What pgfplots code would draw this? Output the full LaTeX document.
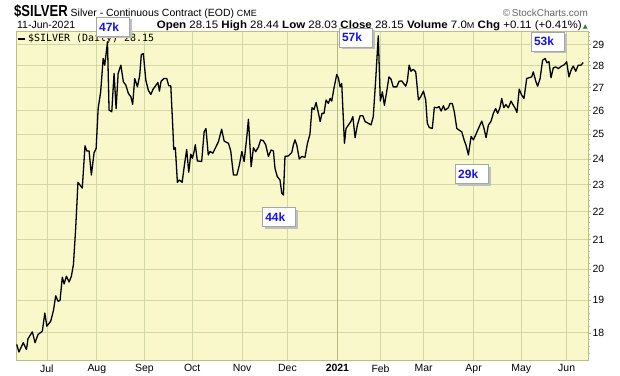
\documentclass[border=0pt]{standalone}
\usepackage{fontspec}
\setmainfont{Liberation Sans}
\newfontfamily\legfont{DejaVu Sans Mono}
\newfontfamily\dejavu{DejaVu Sans}
\usepackage{graphicx}
\usepackage{pgfplots}
\pgfplotsset{compat=1.18}
\usetikzlibrary{shadows}
\definecolor{bgy}{RGB}{248,248,202}
\definecolor{gridc}{RGB}{210,216,164}
\definecolor{gridd}{RGB}{180,186,130}
\definecolor{borderc}{RGB}{190,190,130}
\definecolor{annblue}{RGB}{20,20,235}
\definecolor{upgreen}{RGB}{40,130,40}
\pgfplotstableread{
d p
-13.3 17.66
-12.3 17.44
-10.4 17.71
-9.0 17.51
-8.3 17.83
-6.4 18.03
-5.2 17.71
-3.9 17.95
-2.0 18.05
-0.9 18.60
0.0 18.20
1.7 18.35
2.9 18.68
3.9 19.14
4.9 18.97
5.8 18.99
6.8 19.74
7.6 19.52
8.6 19.77
9.8 19.58
10.8 19.77
11.7 20.15
12.7 21.41
13.7 23.09
15.6 22.87
16.8 24.53
17.6 24.32
18.6 24.32
19.6 23.37
20.8 24.25
21.7 24.42
22.6 26.09
23.7 26.82
24.8 28.34
25.5 28.03
26.7 29.13
27.4 26.02
28.6 25.95
29.6 27.65
30.5 26.09
31.4 27.65
32.6 28.03
33.7 27.27
34.8 27.12
35.9 26.75
37.0 26.60
37.8 26.27
38.7 27.42
39.9 27.04
40.9 27.56
41.6 28.52
42.5 28.57
43.6 27.34
44.7 26.89
45.8 26.70
46.7 26.92
48.1 27.12
48.9 27.24
49.6 26.85
50.3 27.29
51.6 27.42
52.8 27.42
53.7 27.09
54.6 27.09
55.5 25.24
55.9 24.38
56.6 24.45
57.5 23.09
58.4 23.18
59.6 23.09
60.6 23.76
61.6 24.38
62.5 23.48
63.4 24.19
64.1 24.03
64.8 24.27
65.4 24.57
66.3 23.92
68.2 23.90
69.3 25.11
70.1 25.24
71.1 24.16
71.9 24.30
73.1 24.23
74.2 24.43
75.6 24.70
77.0 25.21
78.1 24.72
80.0 24.63
81.0 24.32
82.2 23.37
83.7 23.37
84.8 23.76
85.9 24.30
86.9 23.90
88.1 24.91
88.8 25.63
90.0 23.69
91.0 24.45
92.0 24.29
93.2 24.48
94.2 24.77
95.4 24.73
96.4 24.57
97.6 24.10
98.8 24.36
99.8 24.32
100.5 23.63
101.5 23.31
102.7 23.18
103.5 22.68
104.2 22.61
104.9 24.10
106.4 24.12
107.9 24.26
108.6 24.56
109.3 24.77
110.1 24.56
111.2 24.00
112.3 24.10
113.7 24.06
114.8 24.63
115.9 25.00
116.8 26.12
117.7 26.05
118.6 26.35
119.6 25.91
120.4 25.53
121.2 25.88
122.1 25.88
123.0 26.46
124.0 26.31
124.8 26.53
125.5 26.41
126.5 26.99
127.7 27.60
128.4 27.45
129.2 27.04
129.9 27.19
131.1 24.63
131.8 25.24
132.8 25.38
133.9 25.53
134.8 25.74
135.8 24.86
136.8 25.38
138.0 25.78
139.2 25.78
140.2 25.53
141.6 25.46
142.8 25.39
143.8 25.74
144.9 27.42
146.0 29.42
146.9 26.41
147.8 26.82
148.7 26.23
149.7 26.82
150.7 27.49
151.6 27.39
152.6 27.04
154.1 27.04
155.2 27.29
156.3 27.31
157.2 27.19
158.1 27.07
158.8 27.29
159.6 28.03
160.4 27.75
161.4 27.84
162.5 27.72
163.7 26.46
164.7 26.60
165.9 26.85
166.9 26.46
167.6 25.46
168.5 25.28
169.8 25.24
170.7 26.14
171.8 26.12
172.8 26.17
173.7 25.98
174.7 26.21
175.4 26.02
176.9 26.12
177.6 26.31
178.6 26.31
179.5 25.95
180.6 25.24
181.7 25.17
182.8 25.10
183.8 24.77
184.7 24.54
185.7 24.16
186.9 24.91
187.9 24.77
188.9 24.97
189.8 25.17
190.5 25.32
191.6 25.55
192.6 25.24
193.5 24.86
194.5 25.38
195.7 25.55
196.7 25.88
197.7 26.09
198.6 25.88
199.6 26.12
200.4 26.53
201.3 26.12
202.2 26.26
203.3 26.12
204.5 26.41
205.5 26.23
206.2 26.12
207.1 25.92
208.1 26.94
209.2 26.67
210.2 26.53
211.4 27.42
212.4 27.45
213.6 27.49
214.3 27.72
215.4 27.29
216.2 27.07
217.3 27.42
218.4 28.26
219.5 28.34
220.3 28.14
221.2 28.19
222.1 27.45
223.1 27.90
224.2 27.95
225.3 27.87
226.8 27.99
228.0 28.05
229.0 28.19
230.0 27.49
230.9 27.79
231.9 27.99
233.0 27.75
234.1 28.03
235.3 28.03
236.3 28.15
}\silver
\begin{document}
\begin{tikzpicture}
\useasboundingbox (0,0) rectangle (620bp,376bp);
\begin{axis}[
  at={(16bp,16bp)}, anchor=south west,
  scale only axis, width=572bp, height=329bp,
  xmin=-13.6, xmax=238.4,
  ymode=log, ymin=17.21, ymax=29.66,
  axis background/.style={fill=bgy},
  axis line style={draw=borderc, line width=0.8bp},
  grid=major,
  major grid style={draw=gridc, line width=0.7bp},
  xtick={0,22,43,64,86,106,128,147,166,188,209,229},
  xticklabels={Jul,Aug,Sep,Oct,Nov,Dec,\textbf{2021},Feb,Mar,Apr,May,Jun},
  xtick style={draw=none},
  xticklabel style={font=\fontsize{10.5}{12}\selectfont, yshift=2bp},
  extra x ticks={128},
  extra x tick labels={},
  extra x tick style={major grid style={draw=gridd, line width=1bp}, tick style={draw=none}},
  ytick={18,19,20,21,22,23,24,25,26,27,28,29},
  yticklabels={18,19,20,21,22,23,24,25,26,27,28,29},
  minor ytick={17.4,17.6,17.8,18.2,18.4,18.6,18.8,19.2,19.4,19.6,19.8,20.2,20.4,20.6,20.8,21.2,21.4,21.6,21.8,22.2,22.4,22.6,22.8,23.2,23.4,23.6,23.8,24.2,24.4,24.6,24.8,25.2,25.4,25.6,25.8,26.2,26.4,26.6,26.8,27.2,27.4,27.6,27.8,28.2,28.4,28.6,28.8,29.2,29.4,29.6},
  ytick pos=right, yticklabel pos=right,
  tick align=outside,
  major tick length=3bp, minor tick length=1.5bp,
  ytick style={draw=borderc, line width=0.6bp},
  yticklabel style={font=\fontsize{10.5}{12}\selectfont, anchor=west, xshift=-2bp},
  legend style={at={(0,1)}, anchor=north west, draw=none, fill=none,
    font=\legfont\fontsize{10}{11}\selectfont, inner sep=1bp},
  legend image code/.code={\draw[line width=2bp] (0bp,0bp) -- (7bp,0bp);},
]
\addplot[black, line width=1.3bp, line join=round] table[x=d, y=p] {\silver};
\addlegendentry{\$SILVER (Daily) 28.15}
\coordinate (a47) at (axis cs:29.2,29.87);
\coordinate (a57) at (axis cs:136.2,29.34);
\coordinate (a44) at (axis cs:102.4,21.80);
\coordinate (a29) at (axis cs:187.4,23.40);
\coordinate (a53) at (axis cs:220.8,29.14);
\end{axis}
\tikzset{ann/.style={draw=gray!70, fill=white, line width=0.8bp, minimum width=33bp, minimum height=19bp,
  text width=28bp, align=left, inner sep=2bp, font=\fontsize{12}{12}\selectfont\bfseries, text=annblue,
  drop shadow={shadow xshift=2bp, shadow yshift=-2bp, fill=gray!50, opacity=1}}}
\node[ann] at (a47) {47k};
\node[ann] at (a57) {57k};
\node[ann] at (a44) {44k};
\node[ann] at (a29) {29k};
\node[ann] at (a53) {53k};
% header
\node[anchor=base west, inner sep=0] at (14bp,359bp) {\scalebox{0.82}[1]{\fontsize{16}{17}\selectfont\bfseries \$SILVER}\hspace{3bp}\fontsize{10.5}{12}\selectfont Silver - Continuous Contract (EOD) {\fontsize{9}{10}\selectfont CME}};
\node[anchor=base east, inner sep=0, text=gray!80!black] at (588bp,359bp) {\fontsize{10}{12}\selectfont \textcopyright\,StockCharts.com};
\node[anchor=base west, inner sep=0] at (17bp,347bp) {\fontsize{10.5}{12}\selectfont 11-Jun-2021};
\node[anchor=base east, inner sep=0] at (588bp,347bp) {\scalebox{1.07}[1]{\fontsize{10.8}{12}\selectfont \textbf{Open} 28.15 \textbf{High} 28.44 \textbf{Low} 28.03 \textbf{Close} 28.15 \textbf{Volume} 7.0{\fontsize{8.5}{10}\selectfont M} \textbf{Chg} +0.11 (+0.41\%){\dejavu\fontsize{6}{6}\selectfont\color{upgreen}\,▲}}};
\end{tikzpicture}
\end{document}
